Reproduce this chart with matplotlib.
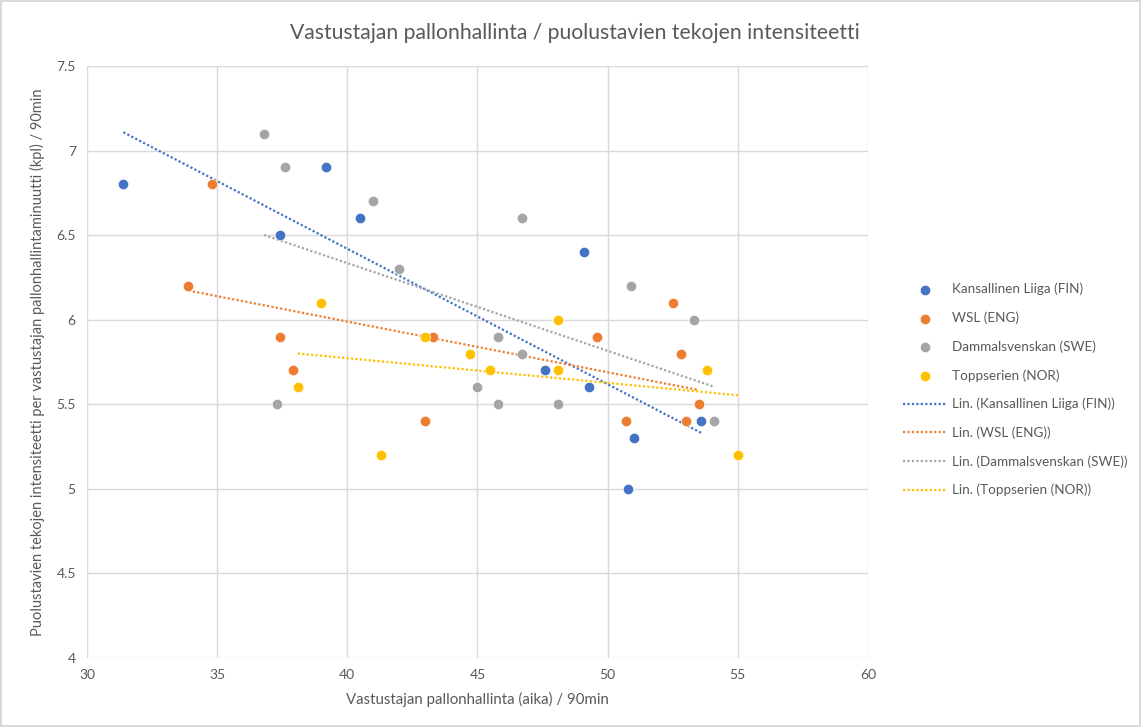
import numpy as np
import matplotlib.pyplot as plt

plt.rcParams['font.family'] = ['Lato', 'DejaVu Sans']

# Kansallinen Liiga (FIN)
fin_x = [31.4, 39.2, 40.5, 37.4, 49.1, 47.6, 49.3, 51.0, 50.8, 53.6]
fin_y = [6.8, 6.9, 6.6, 6.5, 6.4, 5.7, 5.6, 5.3, 5.0, 5.4]

# WSL (ENG)
eng_x = [34.8, 33.9, 37.4, 37.9, 43.3, 43.0, 49.6, 52.5, 52.8, 53.5, 50.7, 53.0]
eng_y = [6.8, 6.2, 5.9, 5.7, 5.9, 5.4, 5.9, 6.1, 5.8, 5.5, 5.4, 5.4]

# Dammalsvenskan (SWE)
swe_x = [36.8, 37.6, 41.0, 42.0, 37.3, 46.7, 50.9, 53.3, 45.8, 46.7, 45.0, 45.8, 48.1, 54.1]
swe_y = [7.1, 6.9, 6.7, 6.3, 5.5, 6.6, 6.2, 6.0, 5.9, 5.8, 5.6, 5.5, 5.5, 5.4]

# Toppserien (NOR)
nor_x = [39.0, 38.1, 43.0, 44.7, 48.1, 45.5, 48.1, 53.8, 55.0, 41.3]
nor_y = [6.1, 5.6, 5.9, 5.8, 6.0, 5.7, 5.7, 5.7, 5.2, 5.2]

series = [
    ('Kansallinen Liiga (FIN)', fin_x, fin_y, '#4472C4'),
    ('WSL (ENG)', eng_x, eng_y, '#ED7D31'),
    ('Dammalsvenskan (SWE)', swe_x, swe_y, '#A5A5A5'),
    ('Toppserien (NOR)', nor_x, nor_y, '#FFC000'),
]

fig = plt.figure(figsize=(11.41, 7.27), dpi=100)
fig.patch.set_edgecolor('#d9d9d9')
fig.patch.set_linewidth(1.5)
ax = fig.add_axes([0.0762, 0.0949, 0.6845, 0.8143])

txt = '#595959'
grid = '#d9d9d9'

handles = []
for name, xs, ys, col in series:
    h = ax.scatter(xs, ys, s=55, color=col, label=name, zorder=3,
                   edgecolors='white', linewidths=0.4)
    handles.append(h)

# linear trendlines, fitted from the points
trend_handles = []
for name, xs, ys, col in series:
    xs = np.array(xs)
    k, b = np.polyfit(xs, np.array(ys), 1)
    xx = np.array([xs.min(), xs.max()])
    l, = ax.plot(xx, k * xx + b, color=col, linestyle=(0, (1, 1)),
                 linewidth=1.6, label='Lin. (' + name + ')', zorder=2)
    trend_handles.append(l)

ax.set_xlim(30, 60)
ax.set_ylim(4, 7.5)
ax.set_xticks(np.arange(30, 61, 5))
ax.set_yticks(np.arange(4, 7.51, 0.5))
ax.set_yticklabels(['4', '4.5', '5', '5.5', '6', '6.5', '7', '7.5'])
ax.grid(True, color=grid, linewidth=1)
ax.set_axisbelow(True)
for s in ax.spines.values():
    s.set_visible(False)
ax.tick_params(length=0, colors=txt, labelsize=10, pad=8)

fig.text(0.504, 0.955, 'Vastustajan pallonhallinta / puolustavien tekojen intensiteetti',
         color=txt, fontsize=15.2, ha='center', va='center')
ax.set_xlabel('Vastustajan pallonhallinta (aika) / 90min', color=txt,
              fontsize=10.8, labelpad=8)
ax.set_ylabel('Puolustavien tekojen intensiteetti per vastustajan pallonhallintaminuutti (kpl) / 90min',
              color=txt, fontsize=10.5, labelpad=8)

leg = ax.legend(handles=handles + trend_handles, loc='center left',
                bbox_to_anchor=(0.781, 0.464), bbox_transform=fig.transFigure,
                frameon=False, fontsize=9.7, handlelength=3.2,
                handletextpad=0.4, labelspacing=1.2, scatterpoints=1)
for t in leg.get_texts():
    t.set_color(txt)

fig.savefig('out.png', dpi=100)
